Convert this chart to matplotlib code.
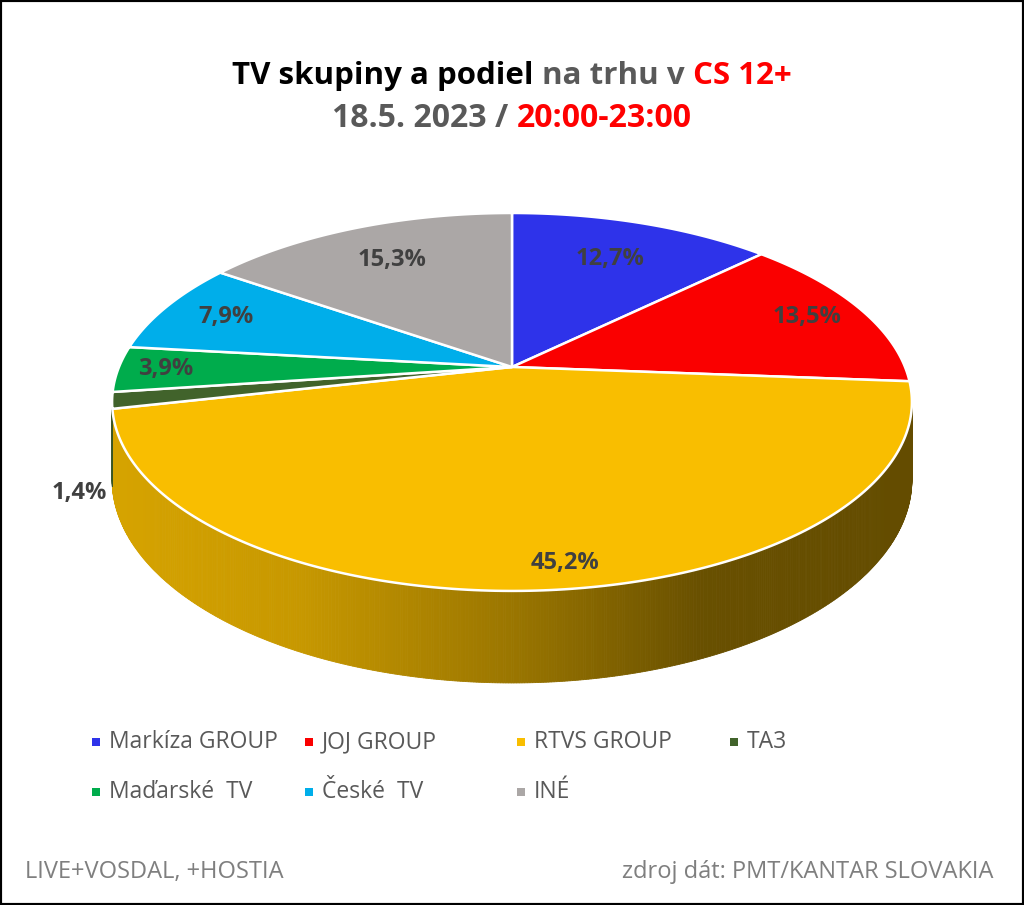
import numpy as np
import matplotlib
matplotlib.use('Agg')
import matplotlib.pyplot as plt
from matplotlib import font_manager
from matplotlib.patches import Polygon, Rectangle
from matplotlib.offsetbox import TextArea, HPacker, AnchoredOffsetbox

# udaje z grafu
kategorie = ['Markíza GROUP', 'JOJ GROUP', 'RTVS GROUP', 'TA3', 'Maďarské  TV', 'České  TV', 'INÉ']
podiel = [12.7, 13.5, 45.2, 1.4, 3.9, 7.9, 15.3]
farby = ['#2E33EA', '#FA0000', '#F9BE00', '#41632B', '#00AC4C', '#00AEEA', '#ABA7A6']

nainstalovane = {f.name for f in font_manager.fontManager.ttflist}
pismo = 'Liberation Sans Narrow' if 'Liberation Sans Narrow' in nainstalovane else 'Open Sans'
plt.rcParams['font.family'] = [pismo, 'DejaVu Sans']

W, H = 1024, 905
fig = plt.figure(figsize=(W / 100, H / 100), dpi=100)
ax = fig.add_axes([0, 0, 1, 1])
ax.set_xlim(0, W)
ax.set_ylim(H, 0)
ax.axis('off')

# perspektiva nakloneneho kolaca (v pixeloch)
cx, cy = 512, 367
a, b, k = 393, 182.5, 0.185
hlbka = 75


def bod(theta, r=1.0, z=0.0):
    X = r * np.cos(theta)
    Y = r * np.sin(theta)
    den = 1 + k * Y
    return cx + a * X / den, cy - b * Y / den + z * hlbka / den


def tien(u):
    return np.interp(u, [112, 300, 512, 700, 912], [0.86, 0.80, 0.62, 0.42, 0.40])


spolu = sum(podiel)
hrany = np.radians(90 - 360 * np.cumsum([0] + podiel) / spolu)

# bocna stena (viditelna len predna cast)
lo, hi = -np.pi + np.arcsin(k), -np.arcsin(k)
for i in range(len(podiel)):
    t0, t1 = hrany[i], hrany[i + 1]
    s0, s1 = min(t0, hi), max(t1, lo)
    if s0 <= s1:
        continue
    tt = np.linspace(s0, s1, max(3, int((s0 - s1) * 180)))
    base = np.array(matplotlib.colors.to_rgb(farby[i]))
    for j in range(len(tt) - 1):
        p = [bod(tt[j]), bod(tt[j + 1]), bod(tt[j + 1], z=1), bod(tt[j], z=1)]
        um = (p[0][0] + p[1][0]) / 2
        c = np.clip(base * tien(um), 0, 1)
        ax.add_patch(Polygon(p, closed=True, facecolor=c, edgecolor=c, lw=0.6))

# vrchna plocha
for i in range(len(podiel)):
    tt = np.linspace(hrany[i], hrany[i + 1], 200)
    xs, ys = bod(tt)
    p = np.column_stack([np.r_[cx, xs], np.r_[cy, ys]])
    ax.add_patch(Polygon(p, closed=True, facecolor=farby[i], edgecolor='white', lw=1.8, joinstyle='round'))

# popisky
label_r = [0.72, 0.84, 0.90, 1.08, 0.88, 0.82, 0.74]
for i, v in enumerate(podiel):
    tm = (hrany[i] + hrany[i + 1]) / 2
    x, y = bod(tm, r=label_r[i])
    if i == 2:
        x += 22
    if i == 3:
        y += 1.2 * hlbka
    ax.text(x, y, f'{v:.1f}%'.replace('.', ','), ha='center', va='center',
            fontsize=17, fontweight='bold', color='#404040')

# titulok
def riadok(kusy, y, velkost):
    box = HPacker(children=[TextArea(t, textprops=dict(color=c, fontsize=velkost, fontweight='bold'))
                            for t, c in kusy], sep=0, pad=0, align='baseline')
    ab = AnchoredOffsetbox(loc='center', child=box, bbox_to_anchor=(0.5, y),
                           bbox_transform=fig.transFigure, frameon=False, pad=0, borderpad=0)
    ax.add_artist(ab)


riadok([('TV skupiny a podiel ', '#000000'), ('na trhu v ', '#595959'), ('CS 12+', '#FF0000')], 1 - 76 / H, 22.5)
riadok([('18.5. 2023 / ', '#595959'), ('20:00-23:00', '#FF0000')], 1 - 118 / H, 23)

# legenda
stlpce = [96, 309, 521, 734]
riadky = [742, 792]
for i, nazov in enumerate(kategorie):
    x = stlpce[i % 4]
    y = riadky[i // 4]
    ax.add_patch(Rectangle((x - 4, y - 4), 8, 8, facecolor=farby[i], edgecolor='none'))
    ax.text(x + 13, y, nazov, ha='left', va='center', fontsize=16.5, color='#595959')

# pata
ax.text(25, 872, 'LIVE+VOSDAL, +HOSTIA', ha='left', va='center', fontsize=17, color='#7F7F7F')
ax.text(993, 872, 'zdroj dát: PMT/KANTAR SLOVAKIA', ha='right', va='center', fontsize=17, color='#7F7F7F')

fig.add_artist(Rectangle((0, 0), 1, 1, transform=fig.transFigure, fill=False, edgecolor='black', lw=3))

fig.savefig('out.png', dpi=100)
